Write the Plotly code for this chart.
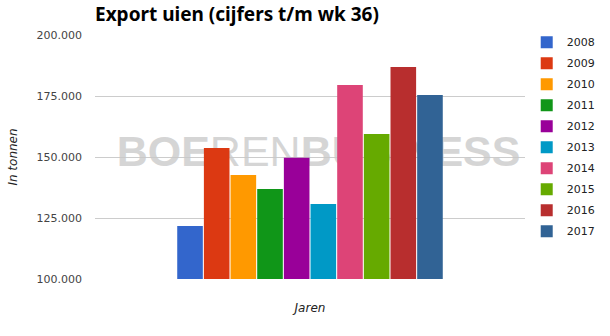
import plotly.graph_objects as go

years = ["2008", "2009", "2010", "2011", "2012", "2013", "2014", "2015", "2016", "2017"]
values = [121700, 153700, 142600, 136900, 149700, 130700, 179500, 159400, 186900, 175400]
colors = ["#3366cc", "#dc3912", "#ff9900", "#109618", "#990099",
          "#0099c6", "#dd4477", "#66aa00", "#b82e2e", "#316395"]
y_ticks = [100000, 125000, 150000, 175000, 200000]

title_text = "Export uien (cijfers t/m wk 36)"
watermark = "<b>BOE</b>REN<b>BUSINESS</b>"

fig = go.Figure()

# watermark on the bottom subplot (drawn beneath the bars)
fig.add_trace(go.Scatter(
    x=[0.52], y=[150800], mode="text", text=[watermark],
    textfont=dict(family="Liberation Sans", size=43,
                  color="rgba(200,200,200,0.75)"),
    xaxis="x", yaxis="y", showlegend=False, hoverinfo="skip", cliponaxis=False,
))

for yr, v, c in zip(years, values, colors):
    fig.add_trace(go.Bar(
        x=[""], y=[v], name=yr, marker=dict(color=c, line=dict(width=0)),
        xaxis="x2", yaxis="y2", hoverinfo="skip",
        legendgroup=yr,
    ))

fig.update_layout(
    width=610, height=336,
    margin=dict(l=95, r=85, t=35, b=57, autoexpand=False),
    paper_bgcolor="white", plot_bgcolor="white",
    separators=",.",
    barmode="group", bargap=0.38, bargroupgap=0.04,
    font=dict(family="DejaVu Sans", size=11, color="#444"),
    title=dict(text="<b>" + title_text + "</b>", x=0, xref="paper", xanchor="left",
               y=1, yref="container", yanchor="top", pad=dict(t=8),
               font=dict(family="Noto Sans", size=19, color="#000")),
    xaxis=dict(range=[0, 1], showticklabels=False, showgrid=False, zeroline=False,
               showline=False, ticks="",
               title=dict(text="Jaren", standoff=24,
                          font=dict(family="DejaVu Sans", size=12, color="#222", style="italic"))),
    yaxis=dict(range=[100000, 200000], tickvals=y_ticks, tickformat=",.0f",
               showgrid=True, gridcolor="#cccccc", gridwidth=1, zeroline=False,
               showline=False, ticks="", ticklabelstandoff=12,
               tickfont=dict(family="DejaVu Sans", size=11, color="#444"),
               title=dict(text="In tonnen", standoff=16,
                          font=dict(family="DejaVu Sans", size=12, color="#222", style="italic"))),
    xaxis2=dict(overlaying="x", anchor="y2", showticklabels=False, showgrid=False,
                zeroline=False, showline=False, ticks=""),
    yaxis2=dict(overlaying="y", anchor="x2", range=[100000, 200000], showticklabels=False,
                showgrid=False, zeroline=False, showline=False, ticks=""),
    legend=dict(x=1.004, xanchor="left", y=1.03, yanchor="top",
                font=dict(family="DejaVu Sans", size=11, color="#222"),
                traceorder="grouped", tracegroupgap=2, itemwidth=30,
                bgcolor="rgba(0,0,0,0)", maxheight=320),
)

fig.write_html("out.html")
